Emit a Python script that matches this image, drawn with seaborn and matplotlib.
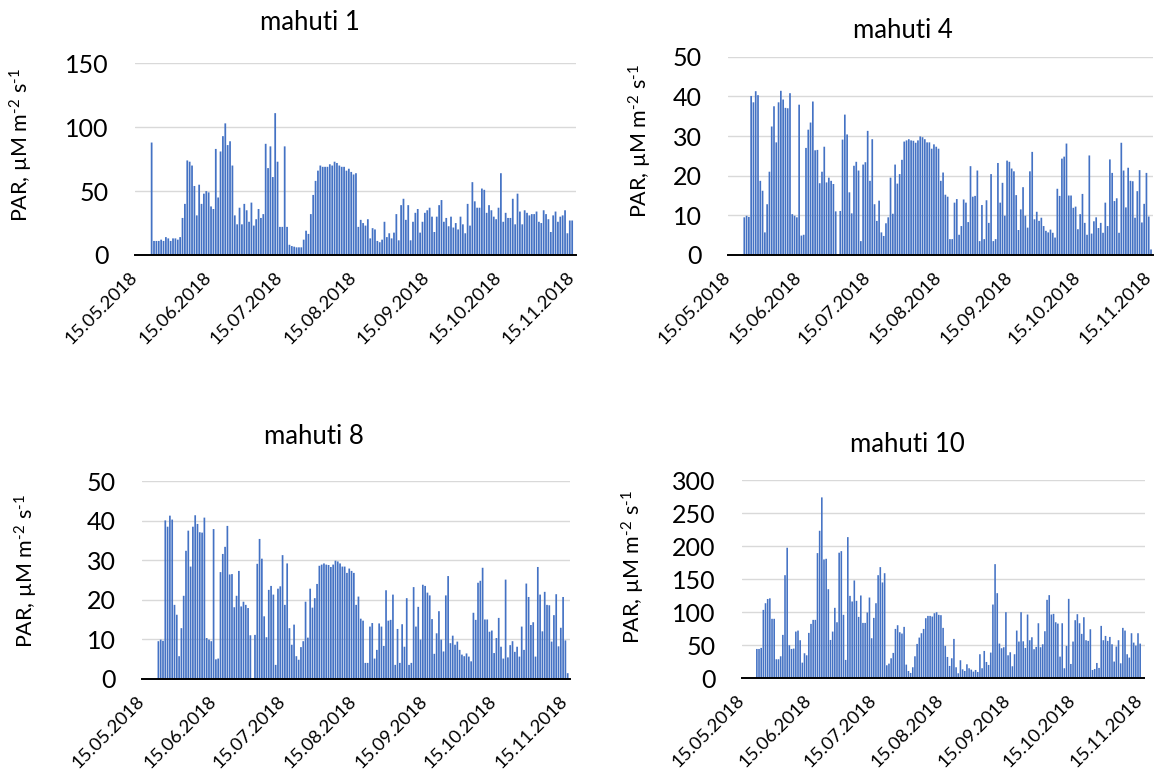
import numpy as np
import pandas as pd
import matplotlib
matplotlib.use("Agg")
import matplotlib.pyplot as plt
import matplotlib.dates as mdates
import seaborn as sns

# ---------------------------------------------------------------------------
# Daily PAR (µM m-2 s-1) in four tanks, starting 22.05.2018
# ---------------------------------------------------------------------------
start_date = "2018-05-22"
axis_start = "2018-05-15"
tick_labels = ["15.05.2018", "15.06.2018", "15.07.2018", "15.08.2018",
               "15.09.2018", "15.10.2018", "15.11.2018"]

par_mahuti1 = [
    88, 11, 11, 11, 12, 11, 14, 13, 11, 13, 13, 12, 14,
    29, 40, 74, 73, 70, 54, 31, 55, 40, 48, 50, 49, 38, 36,
    83, 45, 81, 93, 103, 86, 89, 70,
    31, 24, 37, 24, 40, 35, 26, 41, 23, 28, 36, 29, 32,
    87, 68, 85, 61, 111, 73,
    22, 22, 85, 22,
    8, 7, 6.5, 6, 6, 6,
    12, 19, 16.5, 32, 47, 58, 66,
    70, 69, 69, 69, 71, 70, 73, 72, 70, 69, 69, 66, 67.5, 65, 63, 64,
    22, 27.5, 25, 23, 28, 13, 21, 20, 11, 10,
    12, 26, 14, 17, 13, 17.5, 32, 11.5, 39, 44,
    27.5, 39, 11.5, 26, 33, 36, 17.5, 26, 33, 35,
    37, 30, 18, 30, 39, 43, 26, 29, 22.5, 30,
    21.5, 25, 20, 30, 24, 17, 40, 23, 57, 42,
    37, 37, 52, 51, 33, 39, 35, 30, 28, 37,
    64, 26, 33, 29, 29, 44, 24, 48, 34, 24,
    35, 33, 31, 32, 32, 34, 26, 25, 35, 32,
    28, 18, 31, 34, 26, 30, 31, 35, 17, 27,
    27,
]

par_mahuti4 = [
    9.5, 9.9, 9.6, 40.1, 38.5, 41.3, 40.3, 18.7, 16.2, 5.7,
    12.8, 21, 32.4, 37.5, 28.4, 38.5, 41.4, 39.2, 37.1, 37,
    40.8, 10.3, 9.9, 9.5, 37.9, 4.9, 5.1, 27, 31.6, 33.4,
    38.7, 26.4, 26.5, 18.1, 21, 27.3, 18.3, 19.5, 18.7, 17.9,
    11, None,
    11.1, 29.1, 35.4, 30.4, 15.8, 10.5, 22.5, 23.5, 21.3, 3.5,
    22.8, 23.4, 31.3, 18.7, 29.2, 12.8, 8.6, 13.7, 5.7, 4.8,
    8, 9.5, 19.5, 10.4, 22.8, 18, 20.4, 24, 28.6, 28.9,
    29.2, 28.9, 28.8, 28.3, 28.9, 29.9, 29.7, 29.2, 28.4, 28.4,
    26.8, 27.9, 27.3, 26.8, 18.7, 20.8,
    15.2, 14.7, 4, 4, 13.2, 14.1, 5.1, 7.3, 14, 13.2,
    8.3, 22.4, 14.7, 14.9, 21.3, 3.5, 12.6, 4, 13.8, 8.1,
    20.4, 3.5, 4, 23.2, 13.2, 18.2, 9.9, 23.8, 23.5, 21.8,
    21.1, 15.1, 6.3, 11.5, 17.1, 9.9, 6.9, 21.1, 26, 9,
    10.9, 8.6, 9.4, 7.3, 6.1, 5.7, 6.4, 5.6, 4.4, 16.7,
    14.9, 24.3, 24.8, 28.1, 15, 15, 11.9, 12.2, 6.5, 10.3,
    15.4, 8.1, 5.1, 25.1, 5.4, 8.5, 9.5, 6.8, 8.1, 5.6,
    13.2, 7.3, 24.1, 20.7, 13.6, 14.3, 5.6, 28.3, 21.3, 12,
    22, 18.7, 18.6, 9.4, 16.1, 21.4, 8.2, 12.9, 20.7, 9.7,
    1.4,
]

# tank 8 recorded the same daily series as tank 4
par_mahuti8 = list(par_mahuti4)

par_mahuti10 = [
    44.4, 44.4, 46, 103.5, 113.6, 120, 121, 90, 90, 28.8,
    28.8, 33.3, 65.7, 156, 197.5, 50, 44.4, 45, 70.7, 72.2,
    57.6, 23.7, 37.9, 34.8, 68.7, 82.3, 88.4, 88.4, 189.4, 223.2,
    273.7, 179.8, 180.8, 134.8, 58, 70.7, 106.6, 84.8, 190, 192.4,
    96, 27.8, 213.6, 124.7, 116.2, 148, 117.2, 92.9, 125.3, 83.8,
    83.8, 99.5, 122.2, 60.6, 91.4, 113.6, 156, 168.2, 145, 159,
    19.7, 22.2, 30.3, 38.4, 74.7, 80.3, 69.7, 67.7, 77.8, 20.7,
    11.1, 8.1, 16.7, 33.3, 52, 61.6, 68.2, 74.7, 90.9, 94.4,
    94.4, 93.4, 98.5, 100, 96,
    95.5, 76.3, 49, 32.3, 18.7, 30.3, 59.6, 16.7, 7.6, 27.3,
    13.6, 11.1, 21.2, 15.2, 13.1, 10.1, 12.6, 9.6, 36.4, 15.2,
    41.4, 24.7, 20.2, 38.9, 111.6, 172.7, 128.8, 52.5, 45.5, 47,
    100, 34.8, 39.4, 18.2, 36.4, 72.2, 55.6, 100, 56, 46,
    96.5, 57.6, 62.1, 44, 47.5, 83.3, 47, 51.5, 71.2, 118.7,
    125.8, 96.5, 97.5, 84.8, 82.8, 32.8, 83.3, 15.2, 49, 120.2,
    21.7, 55.6, 87.9, 97, 83.3, 67.2, 92.4, 57.6, 56.6, 74.2,
    12.6, 14.1, 23.2, 15.7, 79.3, 57.6, 64.1, 56.6, 62.6, 51.5,
    25.3, 48, 57.6, 22.7, 76.3, 72.2, 36.4, 31.3, 68.2, 54,
    49.5, 68.2, 52.5,
]

titles = ["mahuti 1", "mahuti 4", "mahuti 8", "mahuti 10"]
y_maxima = [150, 50, 50, 300]
y_steps = [50, 10, 10, 50]

# ---------------------------------------------------------------------------
sns.set_style("white")
plt.rcParams["font.family"] = ["Lato", "DejaVu Sans"]
plt.rcParams["mathtext.fontset"] = "custom"
plt.rcParams["mathtext.rm"] = "Lato"
plt.rcParams["mathtext.it"] = "Lato:italic"
plt.rcParams["mathtext.bf"] = "Lato:bold"

W, H = 1157, 775
fig = plt.figure(figsize=(W / 100, H / 100), dpi=100)

bar_color = "#4472C4"
grid_color = "#D9D9D9"
# superscripts use a short hyphen (U+2010) rather than a long minus sign
ylabel_text = "PAR, µM m$^{\u20102}$ s$^{\u20101}$"

# panel geometry in pixels: left, top, right, bottom of the plot area
boxes = [
    (135.0, 63.3, 575.5, 255.0),
    (728.3, 56.7, 1153.3, 255.0),
    (142.3, 481.3, 570.0, 678.7),
    (741.7, 480.0, 1144.5, 678.3),
]
# where the axis ends (days after 15.05)
x_span_days = [185.4, 186.0, 186.0, 186.0]
title_pos = [(310, 22), (903, 30), (314, 437), (907, 444)]
ylabel_pos = [(21, 145), (640, 141), (26, 571), (633, 567)]

series = [par_mahuti1, par_mahuti4, par_mahuti8, par_mahuti10]
x0 = mdates.date2num(pd.Timestamp(axis_start))
tick_pos = mdates.date2num(pd.to_datetime(tick_labels, format="%d.%m.%Y"))

for vals, title, ymax, ystep, box, span, tpos, lpos in zip(
        series, titles, y_maxima, y_steps, boxes, x_span_days, title_pos, ylabel_pos):
    l, t, r, b = box
    ax = fig.add_axes([l / W, 1 - b / H, (r - l) / W, (b - t) / H])

    dates = pd.date_range(start_date, periods=len(vals), freq="D")
    df = pd.DataFrame({"day": mdates.date2num(dates),
                       "par": pd.Series(vals, dtype="float")})
    df = df.dropna()

    sns.barplot(data=df, x="day", y="par", native_scale=True, width=0.74,
                color=bar_color, saturation=1, errorbar=None, linewidth=0,
                ax=ax)
    # let thin bars render with soft anti-aliased edges instead of pixel snapping
    for patch in ax.patches:
        patch.set_snap(False)

    ax.set_xlim(x0, x0 + span)
    ax.set_ylim(0, ymax)
    yt = np.arange(0, ymax + ystep / 2, ystep)
    ax.set_yticks(yt)
    ax.set_yticklabels([f"{v:g}" for v in yt], fontsize=18)
    ax.set_xticks(tick_pos)
    ax.set_xticklabels(tick_labels, rotation=45, ha="right", va="center",
                       rotation_mode="anchor", fontsize=13.3)
    ax.set_xlabel("")
    ax.set_ylabel("")

    ax.yaxis.grid(True, color=grid_color, linewidth=1.0)
    ax.xaxis.grid(False)
    ax.set_axisbelow(True)
    for side in ("left", "right", "top"):
        ax.spines[side].set_visible(False)
    ax.spines["bottom"].set_color("black")
    ax.spines["bottom"].set_linewidth(1.4)
    ax.tick_params(axis="y", length=0, pad=19, colors="black")
    ax.tick_params(axis="x", direction="out", length=5, width=1.4,
                   color="black", pad=9, labelcolor="black")

    fig.text(tpos[0] / W, 1 - tpos[1] / H, title, ha="center", va="center",
             fontsize=18.5, color="black")
    fig.text(lpos[0] / W, 1 - lpos[1] / H, ylabel_text, rotation=90,
             ha="center", va="center", fontsize=15.5, color="black")

fig.savefig("out.png", dpi=100, facecolor="white")
